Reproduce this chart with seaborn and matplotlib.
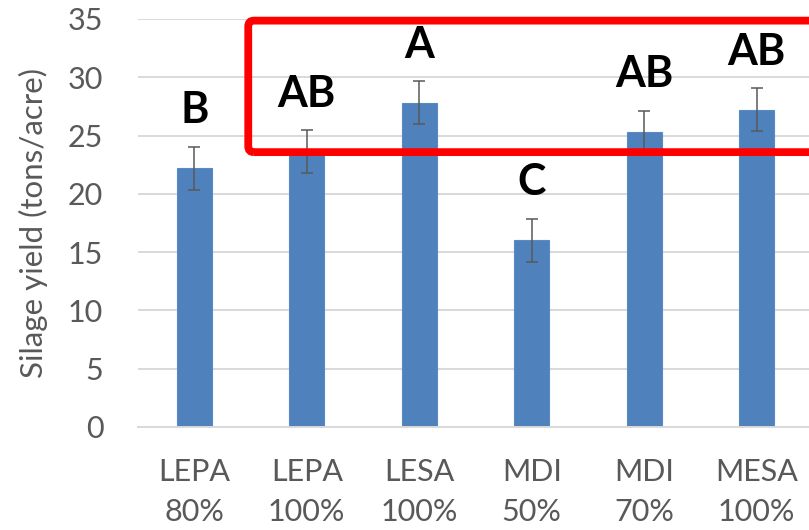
import matplotlib
matplotlib.use("Agg")
import matplotlib.pyplot as plt
import seaborn as sns
import pandas as pd
from matplotlib.patches import FancyBboxPatch

categories = ["LEPA\n80%", "LEPA\n100%", "LESA\n100%", "MDI\n50%", "MDI\n70%", "MESA\n100%"]
yield_vals = [22.2, 23.6, 27.8, 16.0, 25.3, 27.2]
errors = [1.85, 1.85, 1.85, 1.85, 1.85, 1.85]
letters = ["B", "AB", "A", "C", "AB", "AB"]
y_ticks = [0, 5, 10, 15, 20, 25, 30, 35]

sns.set_theme(style="white")
plt.rcParams['font.family'] = ['Lato', 'DejaVu Sans']

df = pd.DataFrame({"cat": categories, "val": yield_vals})

W, H = 809, 530
fig = plt.figure(figsize=(W / 100, H / 100), dpi=100)
ax = fig.add_axes([138 / W, (H - 427) / H, (813 - 138) / W, (427 - 19) / H])

sns.barplot(data=df, x="cat", y="val", color="#4F81BD", width=0.31,
            saturation=1, errorbar=None, ax=ax, edgecolor="#5a8ac6", linewidth=0.8, zorder=2)
xs = list(range(len(categories)))
ax.errorbar(xs, yield_vals, yerr=errors, fmt="none", ecolor="#595959",
            elinewidth=1.1, capsize=4, capthick=1.1, zorder=3)

for x, v, e, t in zip(xs, yield_vals, errors, letters):
    ax.annotate(t, (x, v + e), xytext=(0, 12), textcoords="offset points",
                ha="center", va="bottom", fontsize=31, fontweight="bold", color="black",
                zorder=4)

ax.set_xlim(-0.5, 5.5)
ax.set_ylim(0, 35)
ax.set_yticks(y_ticks)
ax.set_yticklabels([str(t) for t in y_ticks])
ax.yaxis.grid(True, color="#d9d9d9", linewidth=1.4, zorder=0)
ax.set_axisbelow(True)
for s in ["top", "right", "left"]:
    ax.spines[s].set_visible(False)
ax.spines["bottom"].set_color("#d9d9d9")
ax.spines["bottom"].set_linewidth(1.4)
ax.tick_params(axis="both", length=0, colors="#595959", labelsize=22)
ax.tick_params(axis="y", pad=25)
ax.tick_params(axis="x", pad=22)
for lbl in ax.get_xticklabels():
    lbl.set_linespacing(1.55)
ax.set_xlabel("")
ax.set_ylabel("Silage yield (tons/acre)", fontsize=22.5, color="#595959", labelpad=14)

# red highlight box (annotation)
box = FancyBboxPatch((0.48, 23.58), 6.0, 11.28,
                     boxstyle="round,pad=0,rounding_size=0.05",
                     fill=False, edgecolor="#ff0000", linewidth=5.6,
                     transform=ax.transData, clip_on=False, zorder=5,
                     mutation_aspect=10)
ax.add_patch(box)

fig.savefig("out.png", dpi=100)
